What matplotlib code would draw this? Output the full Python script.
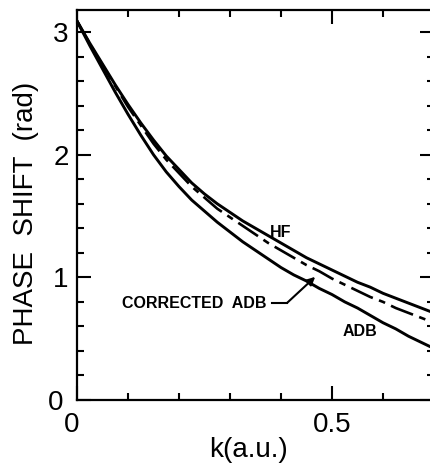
import matplotlib
matplotlib.use("Agg")
import matplotlib.pyplot as plt
import matplotlib.transforms as mtransforms
from matplotlib.ticker import MultipleLocator, FixedLocator

plt.rcParams['font.family'] = ['Liberation Sans', 'DejaVu Sans']

# Data
k = [0.0, 0.025, 0.05, 0.075, 0.10, 0.125, 0.15, 0.175, 0.20, 0.225, 0.25, 0.275, 0.30, 0.325,
     0.35, 0.375, 0.40, 0.425, 0.45, 0.475, 0.50, 0.525, 0.55, 0.575, 0.60, 0.625, 0.65, 0.675, 0.70]
hf = [3.09, 2.91, 2.74, 2.57, 2.41, 2.26, 2.12, 1.99, 1.88, 1.77, 1.68, 1.60, 1.53, 1.46,
      1.40, 1.34, 1.28, 1.22, 1.16, 1.11, 1.06, 1.01, 0.96, 0.92, 0.87, 0.83, 0.79, 0.75, 0.71]
corrected_adb = [3.09, 2.905, 2.73, 2.56, 2.39, 2.24, 2.09, 1.96, 1.85, 1.74, 1.65, 1.56, 1.49, 1.42,
                 1.35, 1.28, 1.22, 1.16, 1.10, 1.05, 0.99, 0.94, 0.89, 0.84, 0.80, 0.75, 0.71, 0.67, 0.63]
adb = [3.09, 2.89, 2.70, 2.51, 2.33, 2.16, 2.00, 1.86, 1.74, 1.63, 1.54, 1.45, 1.37, 1.29,
       1.22, 1.15, 1.08, 1.02, 0.97, 0.91, 0.86, 0.80, 0.75, 0.69, 0.63, 0.58, 0.52, 0.47, 0.42]

x_ticks = [0.0, 0.5]
x_ticklabels = ["0", "0.5"]
y_ticks = [0, 1, 2, 3]
y_ticklabels = ["0", "1", "2", "3"]

fig = plt.figure(figsize=(4.30, 4.63), dpi=100)
ax = fig.add_axes([77/430, 63/463, 357/430, 390/463])

lw = 2.1
ax.plot(k, hf, color='black', lw=lw)
ax.plot(k, adb, color='black', lw=lw)
ax.plot(k, corrected_adb, color='black', lw=1.9, linestyle=(0, (9, 2.5, 2.5, 2.5)))

ax.set_xlim(0, 0.70)
ax.set_ylim(0, 3.18)

ax.xaxis.set_major_locator(FixedLocator(x_ticks))
ax.set_xticklabels(x_ticklabels)
ax.xaxis.set_minor_locator(MultipleLocator(0.1))
ax.yaxis.set_major_locator(FixedLocator(y_ticks))
ax.set_yticklabels(y_ticklabels)
ax.yaxis.set_minor_locator(MultipleLocator(0.2))

ax.tick_params(which='both', direction='in', top=True, right=True, width=1.5, colors='black')
ax.tick_params(which='major', length=10, labelsize=20, pad=6)
ax.tick_params(axis='x', which='major', pad=9)
ax.tick_params(which='minor', length=5)
for s in ax.spines.values():
    s.set_linewidth(1.6)

# nudge the two origin labels apart like the original
xl0 = ax.get_xticklabels()[0]
xl0.set_transform(xl0.get_transform() + mtransforms.ScaledTranslation(-5/100, 0, fig.dpi_scale_trans))
yl0 = ax.get_yticklabels()[0]
yl0.set_transform(yl0.get_transform() + mtransforms.ScaledTranslation(-5/100, 0, fig.dpi_scale_trans))

ax.text(-0.143, 0.479, "PHASE  SHIFT  (rad)", transform=ax.transAxes, rotation=90,
        ha='center', va='center', fontsize=20)
ax.text(0.479, -0.128, "k(a.u.)", transform=ax.transAxes, ha='center', va='center', fontsize=20)

ax.text(0.40, 1.363, "HF", ha='center', va='center', fontsize=11.5, fontweight='bold')
ax.text(0.555, 0.555, "ADB", ha='center', va='center', fontsize=11.5, fontweight='bold')
ax.text(0.3725, 0.784, "CORRECTED  ADB", ha='right', va='center', fontsize=11.5, fontweight='bold')
ax.plot([0.382, 0.412], [0.792, 0.792], color='black', lw=1.5)
ax.annotate("", xy=(0.467, 1.004), xytext=(0.412, 0.792),
            arrowprops=dict(arrowstyle='-|>', color='black', lw=1.5, mutation_scale=12,
                            shrinkA=0, shrinkB=0))

fig.savefig("out.png", dpi=100)
